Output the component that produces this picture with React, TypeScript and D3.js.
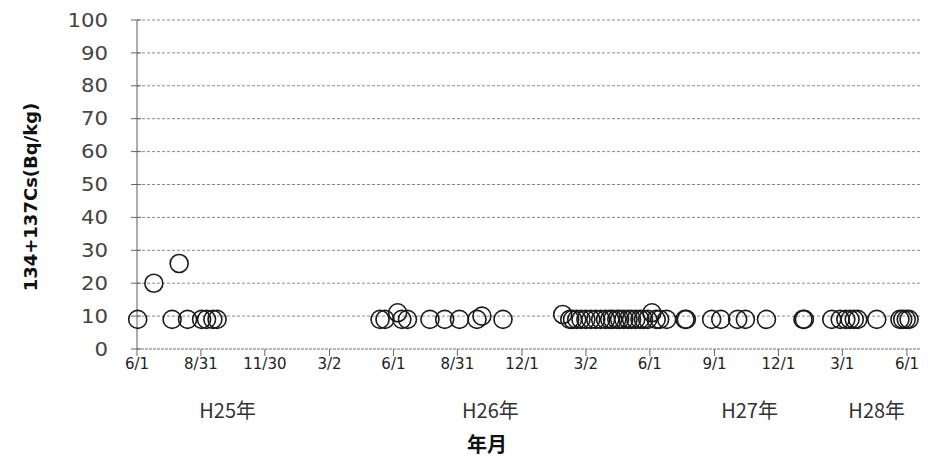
import React from "react";
import * as d3 from "d3";

const sampleDates: string[] = [
  "2013-06-02", "2013-06-25", "2013-07-21", "2013-07-31", "2013-08-12", "2013-09-01", "2013-09-08", "2013-09-17", "2013-09-23",
  "2014-05-13", "2014-05-20", "2014-06-07", "2014-06-13", "2014-06-21", "2014-07-23", "2014-08-13", "2014-09-03", "2014-09-28", "2014-10-05", "2014-11-04",
  "2015-01-28", "2015-02-07", "2015-02-11", "2015-02-17", "2015-02-23", "2015-03-02", "2015-03-09", "2015-03-16", "2015-03-23", "2015-03-30",
  "2015-04-05", "2015-04-09", "2015-04-15", "2015-04-19", "2015-04-25", "2015-05-01", "2015-05-06", "2015-05-12", "2015-05-18", "2015-05-23",
  "2015-05-29", "2015-06-04", "2015-06-10", "2015-06-15", "2015-06-25", "2015-07-21", "2015-07-23", "2015-08-28", "2015-09-10", "2015-10-04",
  "2015-10-15", "2015-11-14",
  "2016-01-05", "2016-01-07", "2016-02-15", "2016-02-27", "2016-03-06", "2016-03-12", "2016-03-18", "2016-03-23", "2016-04-19", "2016-05-22",
  "2016-05-26", "2016-05-31", "2016-06-04",
];

const cesiumValues: number[] = [
  9, 20, 9, 26, 9, 9, 9, 9, 9,
  9, 9, 11, 9, 9, 9, 9, 9, 9, 10, 9,
  10.5, 9, 9, 9, 9, 9, 9, 9, 9, 9,
  9, 9, 9, 9, 9, 9, 9, 9, 9, 9,
  9, 11, 9, 9, 9, 9, 9, 9, 9, 9,
  9, 9,
  9, 9, 9, 9, 9, 9, 9, 9, 9, 9,
  9, 9, 9,
];

const xTickDates: string[] = [
  "2013-06-01", "2013-08-31", "2013-11-30", "2014-03-02", "2014-06-01", "2014-08-31", "2014-12-01",
  "2015-03-02", "2015-06-01", "2015-09-01", "2015-12-01", "2016-03-01", "2016-06-01",
];
const xTickLabels: string[] = [
  "6/1", "8/31", "11/30", "3/2", "6/1", "8/31", "12/1", "3/2", "6/1", "9/1", "12/1", "3/1", "6/1",
];

const yTicks: number[] = [0, 10, 20, 30, 40, 50, 60, 70, 80, 90, 100];

const yearLabels: string[] = ["H25年", "H26年", "H27年", "H28年"];
const yearLabelDates: string[] = ["2013-10-08", "2014-10-17", "2015-10-21", "2016-04-19"];

const parse = d3.timeParse("%Y-%m-%d");

export default function App() {
  const left = 137, right = 921, top = 20, bottom = 349;
  const x = d3.scaleTime()
    .domain([parse("2013-06-01")!, parse("2016-06-21")!])
    .range([left, right]);
  const y = d3.scaleLinear().domain([0, 100]).range([bottom, top]);

  const font = "'DejaVu Sans', 'Noto Sans CJK JP', sans-serif";
  const cjk = "'Noto Sans CJK JP', sans-serif";

  return (
    <svg width={928} height={463} style={{ position: "absolute", left: 0, top: 0, background: "#fff" }}>
      {yTicks.filter((t) => t > 0).map((t) => (
        <line key={"g" + t} x1={left} x2={right} y1={y(t)} y2={y(t)} stroke="#8a8a8a" strokeWidth={1} strokeDasharray="3,2" />
      ))}
      <line x1={left} x2={right} y1={bottom} y2={bottom} stroke="#777" strokeWidth={1.2} strokeDasharray="3,1" />
      {xTickDates.map((d, i) => (
        <g key={"xt" + i}>
          <line x1={x(parse(d)!)} x2={x(parse(d)!)} y1={bottom} y2={bottom + 7} stroke="#666" strokeWidth={1} />
          <text x={x(parse(d)!)} y={bottom + 20} textAnchor="middle" fontFamily={font} fontSize={15} fill="#222">
            {xTickLabels[i]}
          </text>
        </g>
      ))}
      <line x1={left} x2={left} y1={top} y2={bottom} stroke="#777" strokeWidth={1.2} />
      {yTicks.map((t) => (
        <g key={"yt" + t}>
          <line x1={left - 6} x2={left + 4} y1={y(t)} y2={y(t)} stroke="#666" strokeWidth={1} />
          <text x={108} y={y(t)} dy="0.35em" textAnchor="end" fontFamily={font} fontSize={19} fill="#444"
            transform={`translate(108,0) scale(1.12,1) translate(-108,0)`}>
            {t}
          </text>
        </g>
      ))}
      {sampleDates.map((d, i) => (
        <circle key={"p" + i} cx={x(parse(d)!)} cy={y(cesiumValues[i])} r={9} fill="none" stroke="#1a1a1a" strokeWidth={1.6} />
      ))}
      {yearLabels.map((l, i) => (
        <text key={"yl" + i} x={x(parse(yearLabelDates[i])!)} y={418} textAnchor="middle" fontFamily={cjk} fontSize={20} fill="#333">
          {l}
        </text>
      ))}
      <text x={487} y={452} textAnchor="middle" fontFamily={cjk} fontSize={20} fontWeight="bold" fill="#111">年月</text>
      <text transform="translate(37,197) rotate(-90)" textAnchor="middle" fontFamily={font} fontSize={18} fontWeight="bold" fill="#111">
        134+137Cs(Bq/kg)
      </text>
    </svg>
  );
}
